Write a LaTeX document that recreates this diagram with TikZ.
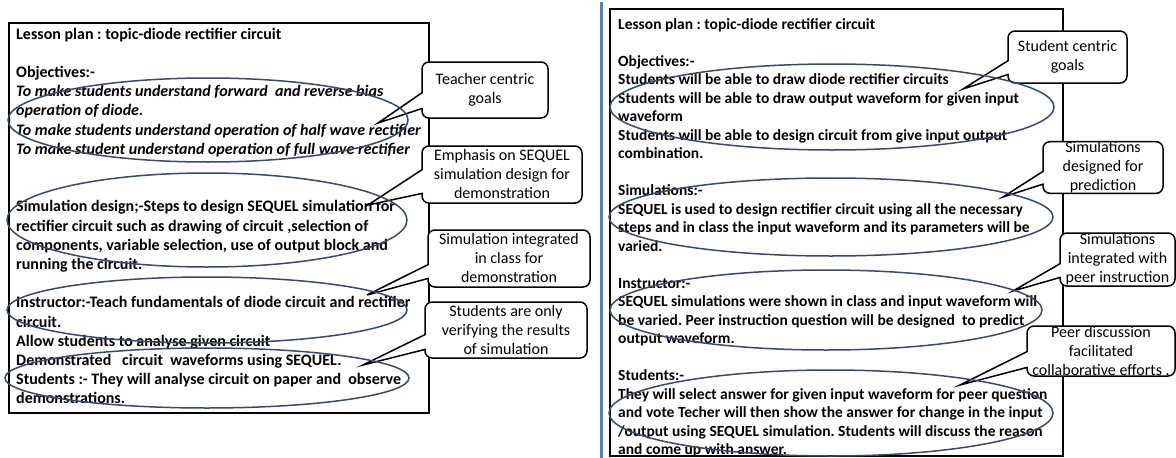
\documentclass[tikz,border=0pt]{standalone}
\usepackage{fontspec}
\setmainfont{Carlito}
\usetikzlibrary{calc}
\frenchspacing
\definecolor{ellcol}{RGB}{55,75,105}
\definecolor{sepblue}{RGB}{79,129,189}
\tikzset{
  boxtext/.style={anchor=base west, inner sep=0pt, font=\fontsize{15.5}{19}\selectfont\bfseries},
  lboxtext/.style={boxtext, font=\fontsize{16}{19}\selectfont\bfseries},
  calloutbox/.style={draw=black, line width=1.5pt, fill=white, rounded corners=7pt, inner sep=0pt, align=center, font=\fontsize{16}{19}\selectfont},
  panel/.style={draw=black, line width=2pt, inner sep=0pt},
  hilite/.style={draw=ellcol, line width=1.5pt},
  wedgeline/.style={draw=black, line width=1.5pt, line join=miter},
}
\newcommand{\mkcallout}[9]{%
  \node[calloutbox, minimum width=#4pt, minimum height=#5pt] (#1) at (#2,#3) {#6};
  \coordinate (#1tip) at (#7);
  \fill[white] ($(#1.north west)+(2.5,#8)$) -- (#1tip) -- ($(#1.north west)+(2.5,#9)$) -- cycle;
  \draw[wedgeline] ($(#1.north west)+(1.5,#8)$) -- (#1tip) -- ($(#1.north west)+(1.5,#9)$);
}
\begin{document}
\begin{tikzpicture}[x=1pt,y=-1pt]
\useasboundingbox (0,0) rectangle (1176,458);
\fill[white] (0,0) rectangle (1176,458);

% separator
\draw[sepblue, line width=3pt] (601,2) -- (601,458);

% ---------- left panel ----------
\node[panel, minimum width=420pt, minimum height=390pt, anchor=north west] (lbox) at (8,22) {};
\foreach \n/\txt in {
  0/{Lesson plan : topic-diode rectifier circuit},
  2/{Objectives:-},
  3/{\itshape To make students understand forward~ and reverse bias},
  4/{\itshape operation of diode.},
  5/{\itshape To make students understand operation of half wave rectifier},
  6/{\itshape To make student understand operation of full wave rectifier},
  9/{Simulation design;-Steps to design SEQUEL simulation for},
  10/{rectifier circuit such as drawing of circuit ,selection of},
  11/{components, variable selection, use of output block and},
  12/{running the circuit.},
  14/{Instructor:-Teach fundamentals of diode circuit and rectifier},
  15/{circuit.},
  16/{Allow students to analyse given circuit},
  17/{Demonstrated~~ circuit~ waveforms using SEQUEL.},
  18/{Students :- They will analyse circuit on paper and~ observe},
  19/{demonstrations.}}
  \node[lboxtext] (lt\n) at (16,{39+19.2*\n}) {\txt};

% ---------- right panel ----------
\node[panel, minimum width=453pt, minimum height=447pt, anchor=north west] (rbox) at (609,8) {};
\begin{scope}
\clip (609,8) rectangle (1062,456);
\foreach \n/\txt in {
  0/{Lesson plan : topic-diode rectifier circuit},
  2/{Objectives:-},
  3/{Students will be able to draw diode rectifier circuits},
  4/{Students will be able to draw output waveform for given input},
  5/{waveform},
  6/{Students will be able to design circuit from give input output},
  7/{combination.},
  9/{Simulations:-},
  10/{SEQUEL is used to design rectifier circuit using all the necessary},
  11/{steps and in class the input waveform and its parameters will be},
  12/{varied.},
  14/{Instructor:-},
  15/{SEQUEL simulations were shown in class and input waveform will},
  16/{be varied. Peer instruction question will be designed~ to predict},
  17/{output waveform.},
  19/{Students:-},
  20/{They will select answer for given input waveform for peer question},
  21/{and vote Techer will then show the answer for change in the input},
  22/{/output using SEQUEL simulation. Students will discuss the reason},
  23/{and come up with answer.}}
  \node[boxtext] (rt\n) at (618,{29+18.5*\n}) {\txt};
\end{scope}

% ---------- callouts ----------
\mkcallout{c1}{485}{90}{126}{56}{Teacher centric\\goals}{378,123}{31}{47}
\mkcallout{c2}{502}{174.5}{160}{57}{Emphasis on SEQUEL\\simulation design for\\demonstration}{368,205}{24}{48}
\mkcallout{c3}{509}{258.5}{162}{57}{Simulation integrated\\in class for\\demonstration}{367,295}{35}{49}
\mkcallout{c4}{506}{330}{162}{56}{Students are only\\verifying the results\\of simulation}{363,365}{33}{48}
\mkcallout{c5}{1067.5}{57}{119}{52}{Student centric\\goals}{963,89}{30}{44}
\mkcallout{c6}{1103}{167.5}{120}{51}{Simulations\\designed for\\prediction}{1003,197}{30}{43}
\mkcallout{c7}{1117.5}{259.5}{115}{53}{Simulations\\integrated with\\peer instruction}{1013,291}{31}{45}
\mkcallout{c8}{1101}{351}{148}{50}{Peer discussion\\facilitated\\collaborative efforts .}{960,385}{26}{42}

% ---------- highlight ellipses ----------
\draw[hilite] (208,120) ellipse [x radius=200, y radius=42];
\draw[hilite] (207,220) ellipse [x radius=200, y radius=47];
\draw[hilite] (207,310) ellipse [x radius=200, y radius=33];
\draw[hilite] (207,378) ellipse [x radius=202, y radius=30];
\draw[hilite] (832,107) ellipse [x radius=222, y radius=43];
\draw[hilite] (831,217) ellipse [x radius=222, y radius=39];
\draw[hilite] (826,310) ellipse [x radius=216, y radius=40];
\draw[hilite] (831,413) ellipse [x radius=222, y radius=43];
\end{tikzpicture}
\end{document}
